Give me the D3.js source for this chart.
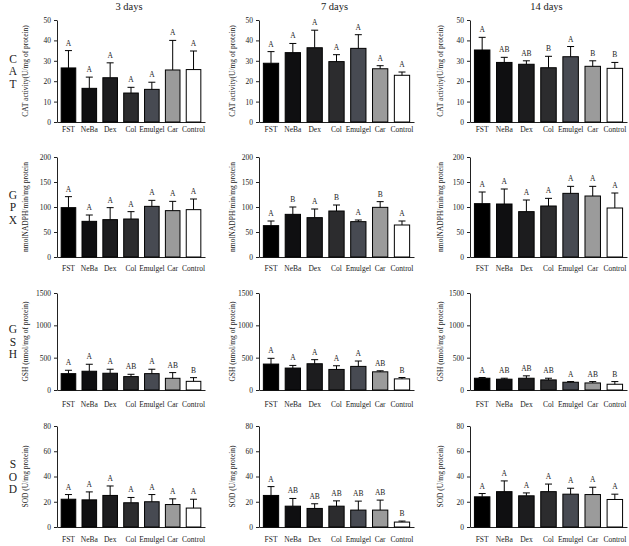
<!DOCTYPE html>
<html>
<head>
<meta charset="utf-8">
<script src="https://cdn.jsdelivr.net/npm/d3@7"></script>
<style>
  body { margin: 0; background: #fff; }
  text { font-family: "Liberation Serif", "Times New Roman", serif; fill: #222; }
</style>
</head>
<body>
<svg id="chart" width="629" height="546"></svg>
<script>
const groups = ['FST', 'NeBa', 'Dex', 'Col', 'Emulgel', 'Car', 'Control'];
const days = ['3 days', '7 days', '14 days'];

// means / SD per day (3, 7, 14 days)
const catMean = [[26.5, 16.5, 21.7, 14.2, 16, 25.5, 25.7], [28.8, 34, 36.4, 29.6, 36.1, 26.1, 22.9], [35.3, 29.2, 28.3, 26.6, 32, 27.3, 26.3]];
const catSd = [[8.5, 5.5, 7.3, 2.8, 3.5, 14.5, 9.1], [5.7, 4.5, 8.6, 3.4, 6.7, 1.5, 1.6], [6.2, 2.5, 1.7, 5.6, 5, 2.7, 2.9]];
const catLetters = [['A', 'A', 'A', 'A', 'A', 'A', 'A'], ['A', 'A', 'A', 'A', 'A', 'A', 'A'], ['A', 'AB', 'AB', 'B', 'A', 'B', 'B']];

const gpxMean = [[98.7, 71.3, 74.7, 76, 101.3, 92.7, 94.7], [62.7, 85.3, 78.7, 92, 70.7, 99.3, 64], [106.7, 106, 90.7, 102, 127.3, 122, 98]];
const gpxSd = [[22, 12.7, 24, 14.7, 12, 18.6, 21.3], [9.3, 14.7, 17.3, 12, 3.3, 11.4, 8], [23.3, 30, 23.3, 15.3, 14, 19.3, 30]];
const gpxLetters = [['A', 'A', 'A', 'A', 'A', 'A', 'A'], ['A', 'B', 'A', 'B', 'A', 'B', 'A'], ['A', 'A', 'A', 'A', 'A', 'A', 'A']];

const gshMean = [[253, 290, 259, 207, 253, 181, 134], [401, 339, 406, 318, 365, 281, 172], [182, 167, 182, 156, 120, 109, 89]];
const gshSd = [[52, 108, 62, 36, 68, 88, 57], [89, 41, 63, 57, 83, 16, 21], [11, 15, 37, 26, 10, 21, 41]];
const gshLetters = [['A', 'A', 'A', 'AB', 'A', 'AB', 'B'], ['A', 'A', 'A', 'A', 'A', 'AB', 'B'], ['A', 'AB', 'AB', 'AB', 'A', 'AB', 'B']];

const sodMean = [[22, 21.5, 25, 19.2, 20, 17.8, 15], [25, 16.5, 14.7, 16.5, 13.4, 13.4, 3.9], [23.9, 28, 24.7, 28, 26, 25.7, 21.8]];
const sodSd = [[3.7, 6.3, 7.5, 4.2, 5.7, 4.5, 7], [7, 6.1, 3.7, 4.2, 7.1, 7.9, 0.8], [2.6, 8.5, 2.3, 6, 4.7, 5.8, 4.2]];
const sodLetters = [['A', 'A', 'A', 'A', 'A', 'A', 'A'], ['A', 'AB', 'AB', 'AB', 'AB', 'AB', 'B'], ['A', 'A', 'A', 'A', 'A', 'A', 'A']];

const metricNames = ['CAT', 'GPX', 'GSH', 'SOD'];
const yTitles = ['CAT activity(U/mg of protein)', 'nmolNADPH/min/mg protein', 'GSH (nmol/mg of protein)', 'SOD (U/mg protein)'];
const yTicks = [[0, 10, 20, 30, 40, 50], [0, 50, 100, 150, 200], [0, 500, 1000, 1500], [0, 20, 40, 60, 80]];

const metrics = metricNames.map((name, i) => ({
  name, title: yTitles[i], ticks: yTicks[i],
  mean: [catMean, gpxMean, gshMean, sodMean][i],
  sd: [catSd, gpxSd, gshSd, sodSd][i],
  letters: [catLetters, gpxLetters, gshLetters, sodLetters][i]
}));

const barColours = ['#000000', '#0f0f11', '#1c1c1e', '#2c2c2e', '#474a52', '#9b9b9b', '#ffffff'];

// layout
const rowTop = [20, 157, 293, 426];
const rowBottom = [122, 257, 390, 527];
const labelPad = [5, 9, 12, 10];
const colLeft = [57, 259, 470];
const colWidth = [148, 155, 157];
const titleOffset = [29, 24, 27];

const svg = d3.select('#chart');

// column titles
svg.selectAll('.day-title').data(days).join('text')
  .attr('class', 'day-title')
  .attr('x', (d, i) => colLeft[i] + colWidth[i] / 2 - 2)
  .attr('y', 10)
  .attr('text-anchor', 'middle')
  .attr('font-size', 10.5)
  .text(d => d);

metrics.forEach((m, r) => {
  const y = d3.scaleLinear()
    .domain([0, d3.max(m.ticks)])
    .range([rowBottom[r], rowTop[r]]);

  // row label, letters stacked
  const mid = (rowTop[r] + rowBottom[r]) / 2;
  const letters = m.name.split('');
  svg.append('g').selectAll('text').data(letters).join('text')
    .attr('x', 13)
    .attr('y', (d, i) => mid + (i - 1) * 12.5 + 4)
    .attr('text-anchor', 'middle')
    .attr('font-size', 11.5)
    .text(d => d);

  days.forEach((day, c) => {
    const g = svg.append('g').attr('class', 'panel');

    const x = d3.scaleBand()
      .domain(groups)
      .range([colLeft[c], colLeft[c] + colWidth[c]])
      .paddingInner(0.3)
      .paddingOuter(0.2);

    // y axis
    g.append('g')
      .attr('transform', `translate(${colLeft[c]},0)`)
      .call(d3.axisLeft(y).tickValues(m.ticks).tickSize(3).tickSizeOuter(0).tickFormat(d3.format('d')))
      .call(a => a.selectAll('text').attr('font-size', 7.5).attr('font-family', '"Liberation Serif", serif').attr('fill', '#222'))
      .call(a => a.selectAll('path,line').attr('stroke', '#222'));

    // x axis
    g.append('g')
      .attr('transform', `translate(0,${rowBottom[r]})`)
      .call(d3.axisBottom(x).tickSize(0).tickPadding(labelPad[r]).tickSizeOuter(0))
      .call(a => a.selectAll('text').attr('font-size', 7.5).attr('font-family', '"Liberation Serif", serif').attr('fill', '#222'))
      .call(a => a.select('.domain').attr('stroke', '#222'));

    // y title
    g.append('text')
      .attr('transform', `translate(${colLeft[c] - titleOffset[c]},${mid}) rotate(-90)`)
      .attr('text-anchor', 'middle')
      .attr('font-size', 7.5)
      .text(m.title);

    const rows = groups.map((grp, i) => ({
      grp, mean: m.mean[c][i], sd: m.sd[c][i], letter: m.letters[c][i], colour: barColours[i]
    }));

    // bars
    g.selectAll('rect.bar').data(rows).join('rect')
      .attr('class', 'bar')
      .attr('x', d => x(d.grp))
      .attr('width', x.bandwidth())
      .attr('y', d => y(d.mean))
      .attr('height', d => y(0) - y(d.mean))
      .attr('fill', d => d.colour)
      .attr('stroke', '#000')
      .attr('stroke-width', 1);

    // error bars (upper only)
    g.selectAll('line.err').data(rows).join('line')
      .attr('class', 'err')
      .attr('x1', d => x(d.grp) + x.bandwidth() / 2)
      .attr('x2', d => x(d.grp) + x.bandwidth() / 2)
      .attr('y1', d => y(d.mean))
      .attr('y2', d => y(d.mean + d.sd))
      .attr('stroke', '#000');
    g.selectAll('line.cap').data(rows).join('line')
      .attr('class', 'cap')
      .attr('x1', d => x(d.grp) + x.bandwidth() / 2 - 3.5)
      .attr('x2', d => x(d.grp) + x.bandwidth() / 2 + 3.5)
      .attr('y1', d => y(d.mean + d.sd))
      .attr('y2', d => y(d.mean + d.sd))
      .attr('stroke', '#000');

    // significance letters
    g.selectAll('text.sig').data(rows).join('text')
      .attr('class', 'sig')
      .attr('x', d => x(d.grp) + x.bandwidth() / 2)
      .attr('y', d => y(d.mean + d.sd) - 5)
      .attr('text-anchor', 'middle')
      .attr('font-size', 7.5)
      .text(d => d.letter);
  });
});
</script>
</body>
</html>
